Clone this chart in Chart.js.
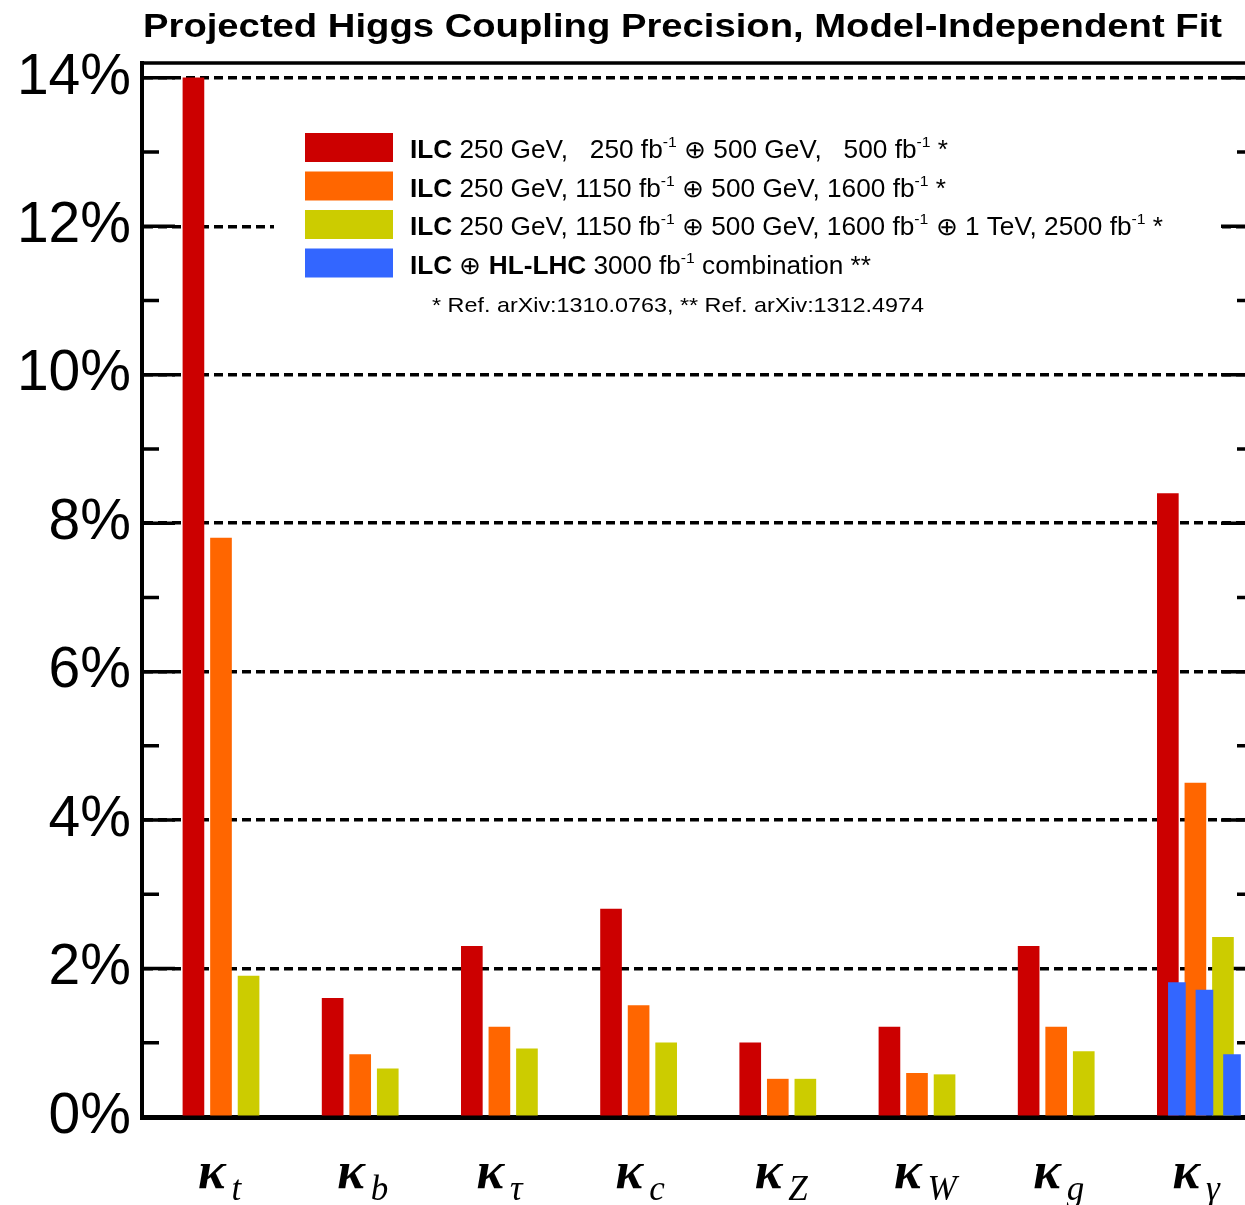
<!DOCTYPE html>
<html>
<head>
<meta charset="utf-8">
<script src="https://cdn.jsdelivr.net/npm/chart.js@4/dist/chart.umd.min.js"></script>
<style>
  html, body { margin: 0; padding: 0; background: #fff; overflow: hidden; }
  #wrap { width: 1260px; height: 1205px; position: relative; }
</style>
</head>
<body>
<div id="wrap"><canvas id="chart"></canvas></div>
<script>
// couplings on the x axis (subscript of kappa)
const couplings = ['t', 'b', 'τ', 'c', 'Z', 'W', 'g', 'γ'];

// precision in %, per ILC running scenario
const ilcBase = [14.0, 1.6, 2.3, 2.8, 1.0, 1.21, 2.3, 8.4];
const ilcLumiUp = [7.8, 0.84, 1.21, 1.5, 0.51, 0.59, 1.21, 4.5];
const ilcLumiUpTeV = [1.9, 0.65, 0.92, 1.0, 0.51, 0.57, 0.88, 2.42];
// ILC + HL-LHC, only for kappa_gamma, one per scenario above
const ilcHlLhcGamma = [1.81, 1.71, 0.84];

const yTicks = [0, 2, 4, 6, 8, 10, 12, 14];

const titleText = 'Projected Higgs Coupling Precision, Model-Independent Fit';

// legend rows: b = bold, s = superscript
const legendRows = [
  [{t: 'ILC', b: 1}, {t: ' 250 GeV,   250 fb'}, {t: '-1', s: 1}, {t: ' ⊕ 500 GeV,   500 fb'}, {t: '-1', s: 1}, {t: ' *'}],
  [{t: 'ILC', b: 1}, {t: ' 250 GeV, 1150 fb'}, {t: '-1', s: 1}, {t: ' ⊕ 500 GeV, 1600 fb'}, {t: '-1', s: 1}, {t: ' *'}],
  [{t: 'ILC', b: 1}, {t: ' 250 GeV, 1150 fb'}, {t: '-1', s: 1}, {t: ' ⊕ 500 GeV, 1600 fb'}, {t: '-1', s: 1}, {t: ' ⊕ 1 TeV, 2500 fb'}, {t: '-1', s: 1}, {t: ' *'}],
  [{t: 'ILC', b: 1}, {t: ' ⊕ '}, {t: 'HL-LHC', b: 1}, {t: ' 3000 fb'}, {t: '-1', s: 1}, {t: ' combination **'}]
];
const legendNote = '* Ref. arXiv:1310.0763, ** Ref. arXiv:1312.4974';

const colors = ['#cc0000', '#ff6600', '#cccc00', '#3366ff'];

const SANS = '"Liberation Sans", Arial, sans-serif';
const SERIF = '"Liberation Serif", "DejaVu Serif", serif';

// bars sit left / middle / right of each coupling
const slot = 0.198;
function points(values, off) {
  return values.map((v, i) => ({x: i + off, y: v}));
}
const last = couplings.length - 1;

function runFont(r, size) {
  return (r.b ? 'bold ' : '') + (r.s ? Math.round(size * 0.6) : size) + 'px ' + SANS;
}

function drawRuns(ctx, runs, x, y, size, targetW) {
  let w = 0;
  runs.forEach(r => { ctx.font = runFont(r, size); w += ctx.measureText(r.t).width; });
  const sx = targetW ? targetW / w : 1;
  ctx.save();
  ctx.translate(x, y);
  ctx.scale(sx, 1);
  let cx = 0;
  runs.forEach(r => {
    ctx.font = runFont(r, size);
    ctx.fillText(r.t, cx, r.s ? -size * 0.44 : 0);
    cx += ctx.measureText(r.t).width;
  });
  ctx.restore();
}

const decorations = {
  id: 'decorations',
  beforeDatasetsDraw(chart) {
    const {ctx, chartArea: a, scales: {y}} = chart;
    ctx.save();
    ctx.strokeStyle = '#000';
    ctx.lineWidth = 3.5;
    for (let v = 1; v <= 14; v++) {
      const py = y.getPixelForValue(v);
      const len = v % 2 ? 17 : 33;
      ctx.beginPath();
      ctx.moveTo(a.left, py); ctx.lineTo(a.left + len, py);
      ctx.moveTo(a.right, py); ctx.lineTo(a.right - len, py);
      ctx.stroke();
    }
    ctx.restore();
  },
  afterDraw(chart) {
    const {ctx, chartArea: a, scales: {x}} = chart;
    ctx.save();
    // top and right frame
    ctx.strokeStyle = '#000';
    ctx.lineWidth = 3.5;
    ctx.beginPath();
    ctx.moveTo(a.left - 2, a.top); ctx.lineTo(a.right, a.top); ctx.lineTo(a.right, a.bottom);
    ctx.stroke();

    // title
    ctx.fillStyle = '#000';
    ctx.textBaseline = 'alphabetic';
    drawRuns(ctx, [{t: titleText, b: 1}], 143, 37, 33, 1079);

    // x labels: kappa with subscript
    couplings.forEach((c, i) => {
      const cx = x.getPixelForValue(i);
      ctx.font = 'bold italic 52px ' + SERIF;
      const kw = ctx.measureText('κ').width;
      ctx.fillText('κ', cx - 23, 1188);
      ctx.font = 'italic 35px ' + SERIF;
      ctx.fillText(c, cx - 23 + kw + 6, 1200);
    });

    // legend
    ctx.fillStyle = '#fff';
    ctx.fillRect(274, 95, 945, 235);
    const ends = [948, 946, 1163, 871];
    legendRows.forEach((row, i) => {
      const base = 158 + i * 38.5;
      ctx.fillStyle = colors[i];
      ctx.fillRect(305, base - 25, 88, 29);
      ctx.fillStyle = '#000';
      drawRuns(ctx, row, 410, base, 25, ends[i] - 410);
    });
    drawRuns(ctx, [{t: legendNote}], 432, 312, 21, 492);
    ctx.restore();
  }
};

new Chart(document.getElementById('chart'), {
  type: 'bar',
  data: {
    datasets: [
      {label: 'ILC 250 GeV 250 fb-1 + 500 GeV 500 fb-1', data: points(ilcBase, -slot), backgroundColor: colors[0], barThickness: 21, order: 1},
      {label: 'ILC 250 GeV 1150 fb-1 + 500 GeV 1600 fb-1', data: points(ilcLumiUp, 0), backgroundColor: colors[1], barThickness: 21, order: 1},
      {label: 'ILC 250 GeV 1150 fb-1 + 500 GeV 1600 fb-1 + 1 TeV 2500 fb-1', data: points(ilcLumiUpTeV, slot), backgroundColor: colors[2], barThickness: 21, order: 1},
      {label: 'ILC + HL-LHC 3000 fb-1 combination',
       data: ilcHlLhcGamma.map((v, k) => ({x: last + (k - 1) * slot + 0.065, y: v})),
       backgroundColor: colors[3], barThickness: 17, order: 0}
    ]
  },
  options: {
    responsive: true,
    maintainAspectRatio: false,
    devicePixelRatio: 1,
    animation: false,
    datasets: {bar: {grouped: false, borderWidth: 0}},
    layout: {padding: {left: 0, right: 6, top: 63, bottom: 0}},
    plugins: {legend: {display: false}, title: {display: false}, tooltip: {enabled: false}},
    scales: {
      x: {
        type: 'linear',
        offset: false,
        min: -0.5675,
        max: 7.421,
        afterBuildTicks: s => { s.ticks = couplings.map((c, i) => ({value: i})); },
        afterFit: s => { s.height = 88; },
        ticks: {display: false},
        grid: {display: false, offset: false},
        border: {display: true, color: '#000', width: 5}
      },
      y: {
        min: 0,
        max: 14.2,
        afterBuildTicks: s => { s.ticks = yTicks.map(v => ({value: v})); },
        afterFit: s => { s.width = 142; },
        ticks: {
          callback: v => v + '%',
          color: '#000',
          padding: 11,
          font: {family: SANS, size: 57}
        },
        grid: {
          drawTicks: false,
          color: c => (c.tick && c.tick.value === 0) ? 'rgba(0,0,0,0)' : '#000',
          lineWidth: 3.5
        },
        border: {display: true, color: '#000', width: 4, dash: [9, 5]}
      }
    }
  },
  plugins: [decorations]
});
</script>
</body>
</html>
